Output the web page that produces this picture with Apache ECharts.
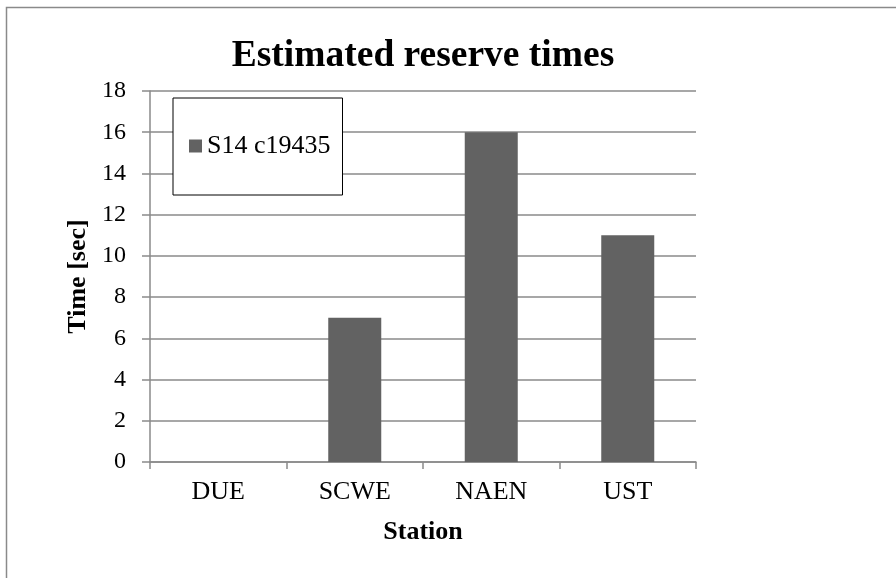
<!DOCTYPE html>
<html>
<head>
<meta charset="utf-8">
<script src="https://cdn.jsdelivr.net/npm/echarts@6/dist/echarts.min.js"></script>
<style>
html,body{margin:0;padding:0;background:#fff;}
#chart{width:896px;height:578px;}
</style>
</head>
<body>
<div id="chart"></div>
<script>
const categories = ["DUE", "SCWE", "NAEN", "UST"];
const seriesName = "S14 c19435";
const values = [0, 7, 16, 11];
const yMin = 0, yMax = 18, yStep = 2;

const serif = '"Liberation Serif", "Times New Roman", serif';
const gridGrey = '#8a8a8a';

const chart = echarts.init(document.getElementById('chart'), null, {renderer: 'canvas'});
chart.setOption({
  animation: false,
  backgroundColor: '#fff',
  title: {
    text: 'Estimated reserve times',
    left: 418, top: 32, textAlign: 'center',
    textStyle: {fontFamily: serif, fontWeight: 'bold', fontSize: 37.5, color: '#000'}
  },
  graphic: [{
    type: 'rect', silent: true, z: -1,
    shape: {x: 6.5, y: 7.5, width: 2000, height: 2000},
    style: {fill: 'none', stroke: gridGrey, lineWidth: 1.5}
  }],
  legend: {
    left: 173, top: 98,
    orient: 'vertical',
    padding: [35, 12, 36, 16],
    borderColor: '#000', borderWidth: 1,
    backgroundColor: '#fff',
    itemWidth: 13, itemHeight: 13,
    icon: 'rect',
    textStyle: {fontFamily: serif, fontSize: 26, color: '#000'},
    data: [seriesName]
  },
  grid: {left: 150, right: 200, top: 91, bottom: 116, containLabel: false},
  xAxis: {
    type: 'category',
    data: categories,
    name: 'Station',
    nameLocation: 'middle',
    nameGap: 57,
    nameTextStyle: {fontFamily: serif, fontWeight: 'bold', fontSize: 26, color: '#000'},
    axisLine: {lineStyle: {color: gridGrey, width: 1.5}},
    axisTick: {show: true, length: 7, lineStyle: {color: gridGrey, width: 1.5}},
    axisLabel: {fontFamily: serif, fontSize: 26, color: '#000', margin: 17}
  },
  yAxis: {
    type: 'value',
    min: yMin, max: yMax, interval: yStep,
    name: 'Time [sec]',
    nameLocation: 'middle',
    nameGap: 58,
    nameTextStyle: {fontFamily: serif, fontWeight: 'bold', fontSize: 26, color: '#000'},
    axisLine: {show: true, lineStyle: {color: gridGrey, width: 1.5}},
    axisTick: {show: true, length: 8, lineStyle: {color: gridGrey, width: 1.5}},
    axisLabel: {fontFamily: serif, fontSize: 24, color: '#000', margin: 24},
    splitLine: {show: true, lineStyle: {color: gridGrey, width: 1.5}}
  },
  series: [{
    name: seriesName,
    type: 'bar',
    data: values,
    barWidth: 53,
    itemStyle: {color: '#626262'}
  }]
});
</script>
</body>
</html>
